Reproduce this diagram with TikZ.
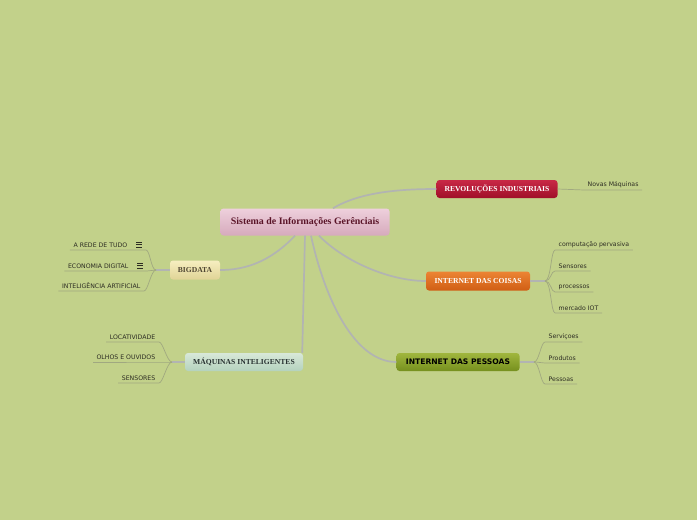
\documentclass[tikz,border=0pt]{standalone}
\usepackage{fontspec}
\setmainfont{Liberation Serif}
\newfontfamily\versans{DejaVu Sans}
\usetikzlibrary{calc,positioning}
\definecolor{fundo}{RGB}{194,209,138}
\definecolor{ramocor}{RGB}{178,180,178}
\definecolor{subcor}{RGB}{160,168,128}
\definecolor{folhatxt}{RGB}{45,45,35}
\newcommand\listico{\hspace{9pt}\vbox{\hrule width 6pt height 0.8pt\vskip 1.7pt\hrule width 6pt height 0.8pt\vskip 1.7pt\hrule width 6pt height 0.8pt}\hspace{3pt}}
\tikzset{
  topico/.style={rounded corners=3pt,font=\bfseries\fontsize{7.6}{8}\selectfont,minimum height=18pt,inner sep=0pt},
  folha/.style={font=\versans\fontsize{6.2}{7}\selectfont,text=folhatxt,inner xsep=3.5pt,inner ysep=2pt},
  ramo/.style={draw=ramocor,line width=1.7pt},
  sub/.style={draw=subcor,line width=0.7pt}
}
\begin{document}
\begin{tikzpicture}[x=1pt,y=-1pt]
\useasboundingbox[fill=fundo] (0,0) rectangle (697,520);
% topicos
\node[topico,minimum width=169pt,minimum height=27pt,top color={rgb,255:red,238;green,208;blue,220},bottom color={rgb,255:red,214;green,170;blue,188},text={rgb,255:red,90;green,20;blue,40},font=\bfseries\fontsize{9.9}{11}\selectfont] (centro) at (305,222) {Sistema de Informações Gerênciais};
\node[topico,minimum width=121pt,top color={rgb,255:red,200;green,40;blue,70},bottom color={rgb,255:red,160;green,15;blue,40},text=white] (rev) at (497,189) {REVOLUÇÕES INDUSTRIAIS};
\node[topico,minimum width=104pt,minimum height=19pt,top color={rgb,255:red,236;green,132;blue,52},bottom color={rgb,255:red,208;green,94;blue,20},text=white] (coisas) at (478,281) {INTERNET DAS COISAS};
\node[topico,minimum width=123pt,top color={rgb,255:red,160;green,182;blue,62},bottom color={rgb,255:red,118;green,144;blue,30},text=black,font=\versans\bfseries\fontsize{7.6}{8}\selectfont] (pessoas) at (458,362) {INTERNET DAS PESSOAS};
\node[topico,minimum width=50pt,minimum height=19pt,top color={rgb,255:red,246;green,238;blue,192},bottom color={rgb,255:red,224;green,212;blue,150},text={rgb,255:red,80;green,70;blue,50}] (bigdata) at (195,270) {BIGDATA};
\node[topico,minimum width=118pt,top color={rgb,255:red,216;green,232;blue,216},bottom color={rgb,255:red,180;green,210;blue,190},text={rgb,255:red,40;green,50;blue,50}] (maquinas) at (244,362) {MÁQUINAS INTELIGENTES};
% ramos principais
\draw[ramo] ($(centro.north)+(28,0)$) .. controls (360,192) and (400,189) .. (rev.west);
\draw[ramo] ($(centro.south)+(14,0)$) .. controls (345,262) and (390,281) .. (coisas.west);
\draw[ramo] ($(centro.south)+(6,0)$) .. controls (325,300) and (355,362) .. (pessoas.west);
\draw[ramo] (centro.south) -- ($(maquinas.north east)+(-1,0)$);
\draw[ramo] ($(centro.south)+(-10,0)$) .. controls (270,262) and (245,270) .. (bigdata.east);
% revolucoes
\node[folha,anchor=south west] (n1) at (584,190) {Novas Máquinas};
\draw[sub] (rev.east) -- (n1.south west) -- (n1.south east);
% internet das coisas
\coordinate (jc) at (545,281);
\node[folha,anchor=south west] (c1) at (555,250) {computação pervasiva};
\node[folha,anchor=south west] (c2) at (555,271) {Sensores};
\node[folha,anchor=south west] (c3) at (555,292) {processos};
\node[folha,anchor=south west] (c4) at (555,313) {mercado IOT};
\draw[ramo,line width=1.2pt] (coisas.east) -- (jc);
\foreach \f in {c1,c2,c3,c4}
  \draw[sub] (jc) .. controls +(6,0) and +(-4,0) .. (\f.south west) -- (\f.south east);
% internet das pessoas
\coordinate (jp) at (534,362);
\node[folha,anchor=south west] (p1) at (545,342) {Serviçoes};
\node[folha,anchor=south west] (p2) at (545,363) {Produtos};
\node[folha,anchor=south west] (p3) at (545,384) {Pessoas};
\draw[ramo,line width=1.2pt] (pessoas.east) -- (jp);
\foreach \f in {p1,p2,p3}
  \draw[sub] (jp) .. controls +(5,0) and +(-4,0) .. (\f.south west) -- (\f.south east);
% bigdata
\coordinate (jb) at (156,270);
\node[folha,anchor=south east] (b1) at (146,250) {A REDE DE TUDO\listico};
\node[folha,anchor=south east] (b2) at (147,271) {ECONOMIA DIGITAL\listico};
\node[folha,anchor=south east] (b3) at (144,291) {INTELIGÊNCIA ARTIFICIAL};
\draw[ramo,line width=1.2pt] (bigdata.west) -- (jb);
\foreach \f in {b1,b2,b3}
  \draw[sub] (jb) .. controls +(-5,0) and +(4,0) .. (\f.south east) -- (\f.south west);
% maquinas inteligentes
\coordinate (jm) at (172,362);
\node[folha,anchor=south east] (m1) at (159,342) {LOCATIVIDADE};
\node[folha,anchor=south east] (m2) at (159,362) {OLHOS E OUVIDOS};
\node[folha,anchor=south east] (m3) at (159,383) {SENSORES};
\draw[ramo,line width=1.2pt] (maquinas.west) -- (jm);
\foreach \f in {m1,m2,m3}
  \draw[sub] (jm) .. controls +(-5,0) and +(4,0) .. (\f.south east) -- (\f.south west);
\end{tikzpicture}
\end{document}
